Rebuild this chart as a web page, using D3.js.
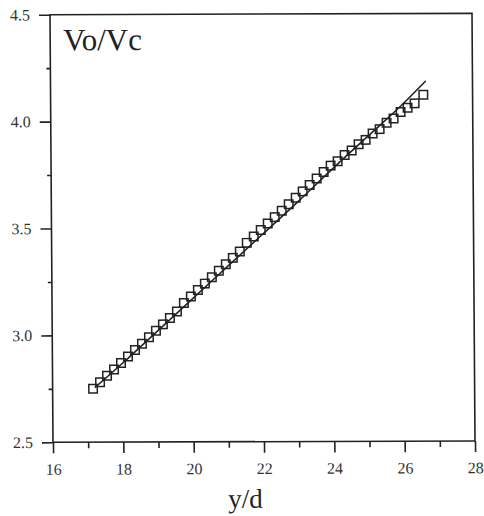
<!DOCTYPE html>
<html>
<head>
<meta charset="utf-8">
<script src="https://cdn.jsdelivr.net/npm/d3@7"></script>
<style>
  html, body { margin: 0; padding: 0; background: #fff; }
  svg { display: block; }
</style>
</head>
<body>
<svg id="chart" width="484" height="516"></svg>
<script>
// Measured points: jet velocity ratio against distance
const yOverD = [17.15, 17.35, 17.55, 17.75, 17.95, 18.15, 18.35, 18.55, 18.75, 18.95,
                19.15, 19.35, 19.55, 19.75, 19.95, 20.15, 20.35, 20.55, 20.75, 20.95,
                21.15, 21.35, 21.55, 21.75, 21.95, 22.15, 22.35, 22.55, 22.75, 22.95,
                23.15, 23.35, 23.55, 23.75, 23.95, 24.15, 24.35, 24.55, 24.75, 24.95,
                25.15, 25.35, 25.55, 25.75, 25.95, 26.15, 26.35, 26.6];
const voVc = [2.75, 2.78, 2.81, 2.84, 2.87, 2.90, 2.93, 2.96, 2.99, 3.02,
              3.05, 3.08, 3.11, 3.15, 3.18, 3.21, 3.24, 3.27, 3.30, 3.33,
              3.36, 3.39, 3.43, 3.46, 3.49, 3.52, 3.55, 3.58, 3.61, 3.64,
              3.67, 3.70, 3.73, 3.76, 3.79, 3.81, 3.84, 3.86, 3.89, 3.91,
              3.94, 3.96, 3.99, 4.01, 4.04, 4.06, 4.08, 4.12];

// Fitted curve
const fitX = [17.2, 18, 19, 20, 21, 22, 23, 24, 25, 26, 26.67];
const fitY = [2.755, 2.87, 3.02, 3.17, 3.32, 3.47, 3.62, 3.775, 3.925, 4.075, 4.185];

// Axis ticks
const xMajor = [16, 18, 20, 22, 24, 26, 28];
const xMinor = [17, 19, 21, 23, 25, 27];
const yMajor = [2.5, 3.0, 3.5, 4.0, 4.5];
const yMinor = [2.75, 3.25, 3.75, 4.25];

const serif = '"Liberation Serif", "Times New Roman", serif';
const ink = "#222";

const svg = d3.select("#chart");
const plotL = 52, plotR = 474, plotT = 14.4, plotB = 442;

const x = d3.scaleLinear().domain([16, 28]).range([plotL, plotR]);
const y = d3.scaleLinear().domain([2.5, 4.5]).range([plotB, plotT]);

// The scanned figure sits very slightly askew; a small shear reproduces it
const g = svg.append("g").attr("transform", "matrix(1,-0.0031,0.007,1,-2.1,0.46)");

// Frame
g.append("rect")
  .attr("x", plotL).attr("y", plotT)
  .attr("width", plotR - plotL).attr("height", plotB - plotT)
  .attr("fill", "none").attr("stroke", ink).attr("stroke-width", 1.6);

// X axis: major ticks with labels, minor ticks without
const xa = g.append("g").attr("transform", `translate(0,${plotB})`)
  .call(d3.axisBottom(x).tickValues(xMajor).tickSize(11).tickPadding(10)
    .tickFormat(d3.format("d")));
const xm = g.append("g").attr("transform", `translate(0,${plotB})`)
  .call(d3.axisBottom(x).tickValues(xMinor).tickSize(6).tickFormat(""));

// Y axis
const ya = g.append("g").attr("transform", `translate(${plotL},0)`)
  .call(d3.axisLeft(y).tickValues(yMajor).tickSize(11).tickPadding(9)
    .tickFormat(d3.format(".1f")));
const ym = g.append("g").attr("transform", `translate(${plotL},0)`)
  .call(d3.axisLeft(y).tickValues(yMinor).tickSize(4).tickFormat(""));

[xa, xm, ya, ym].forEach(a => {
  a.attr("font-family", serif).attr("font-size", 16);
  a.select(".domain").remove();
  a.selectAll("line").attr("stroke", ink).attr("stroke-width", 1.6);
  a.selectAll("text").attr("fill", "#333");
});

// Fitted line
const line = d3.line().x(i => x(fitX[i])).y(i => y(fitY[i])).curve(d3.curveMonotoneX);
g.append("path")
  .attr("d", line(d3.range(fitX.length)))
  .attr("fill", "none").attr("stroke", ink).attr("stroke-width", 1.6);

// Open square markers
const s = 8.5;
g.append("g").selectAll("rect")
  .data(d3.range(yOverD.length))
  .join("rect")
  .attr("x", i => x(yOverD[i]) - s / 2)
  .attr("y", i => y(voVc[i]) - s / 2)
  .attr("width", s).attr("height", s)
  .attr("fill", "none").attr("stroke", ink).attr("stroke-width", 1.5);

// Labels
g.append("text").attr("x", 65).attr("y", 50)
  .attr("font-family", serif).attr("font-size", 31).attr("fill", ink)
  .text("Vo/Vc");
g.append("text").attr("x", 244).attr("y", 508)
  .attr("text-anchor", "middle")
  .attr("font-family", serif).attr("font-size", 27).attr("fill", ink)
  .text("y/d");
</script>
</body>
</html>
